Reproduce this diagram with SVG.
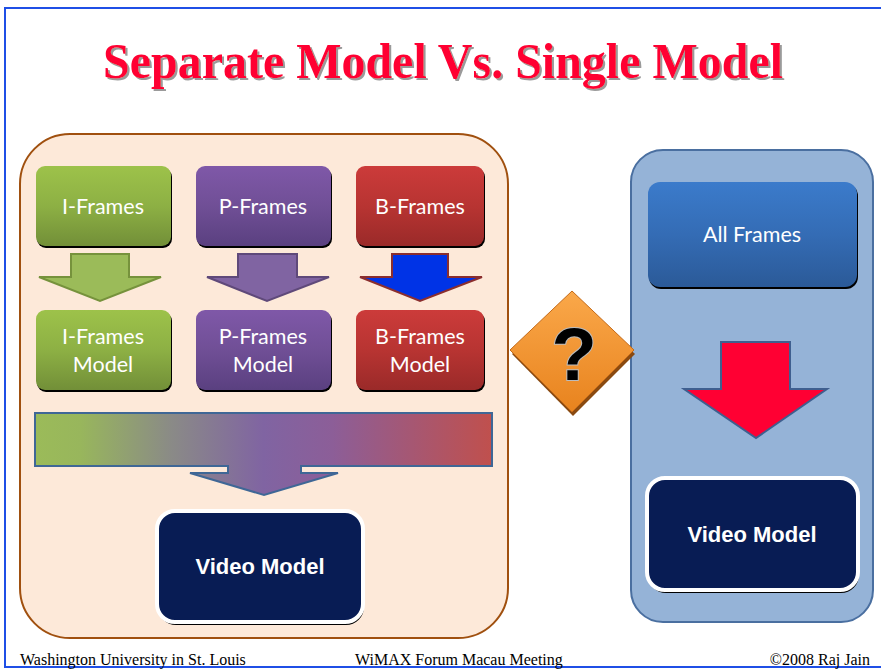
<svg xmlns="http://www.w3.org/2000/svg" width="881" height="669" viewBox="0 0 881 669">
<defs>
<linearGradient id="gGreen" x1="0" y1="0" x2="0" y2="1"><stop offset="0" stop-color="#9DC24A"/><stop offset="0.5" stop-color="#8DB044"/><stop offset="1" stop-color="#728F38"/></linearGradient>
<linearGradient id="gPurple" x1="0" y1="0" x2="0" y2="1"><stop offset="0" stop-color="#7F58A8"/><stop offset="0.5" stop-color="#704F96"/><stop offset="1" stop-color="#5A4080"/></linearGradient>
<linearGradient id="gRed" x1="0" y1="0" x2="0" y2="1"><stop offset="0" stop-color="#CC3B3A"/><stop offset="0.5" stop-color="#B83432"/><stop offset="1" stop-color="#9A2A29"/></linearGradient>
<linearGradient id="gBlue" x1="0" y1="0" x2="0" y2="1"><stop offset="0" stop-color="#3B7BCB"/><stop offset="0.5" stop-color="#346CB5"/><stop offset="1" stop-color="#2B5A98"/></linearGradient>
<linearGradient id="gBar" gradientUnits="userSpaceOnUse" x1="35" y1="0" x2="492" y2="0"><stop offset="0" stop-color="#9BBB59"/><stop offset="0.1" stop-color="#98B65C"/><stop offset="0.3" stop-color="#8A8A87"/><stop offset="0.5" stop-color="#8064A2"/><stop offset="0.65" stop-color="#8C5E98"/><stop offset="1" stop-color="#C0504D"/></linearGradient>
<linearGradient id="gOrange" x1="0" y1="0" x2="0" y2="1"><stop offset="0" stop-color="#FAA84A"/><stop offset="1" stop-color="#E8831E"/></linearGradient>
<filter id="tshadow" x="-5%" y="-20%" width="110%" height="140%"><feDropShadow dx="2" dy="2" stdDeviation="0.6" flood-color="#9A9A9A" flood-opacity="1"/></filter>
<style>
.lbl{font-family:Lato,"Open Sans","Noto Sans",sans-serif;font-size:21.5px;fill:#FFFFFF;text-anchor:middle}
.vm{font-family:"Liberation Sans",Arial,sans-serif;font-size:22px;font-weight:bold;fill:#FFFFFF;text-anchor:middle}
.foot{font-family:"Liberation Serif","Times New Roman",serif;font-size:16px;fill:#000}
.shadow{fill:#000}
.frame{stroke:#1F4FE6;stroke-width:2;fill:none}
</style>
</defs>
<rect x="0" y="0" width="881" height="669" fill="#FFFFFF"/>
<path class="frame" d="M881,8 H5 V667 H881"/>
<g id="title">
<text x="443" y="78" text-anchor="middle" font-family="Liberation Serif,'Times New Roman',serif" font-weight="bold" font-size="50" fill="#FF0033" textLength="680" lengthAdjust="spacingAndGlyphs" filter="url(#tshadow)">Separate Model Vs. Single Model</text>
</g>
<g id="left-container">
<rect x="20" y="134" width="488" height="504" rx="50" fill="#FDE9D9" stroke="#A0500F" stroke-width="2"/>
</g>
<g id="right-container">
<rect x="631" y="150" width="242" height="472" rx="32" fill="#95B3D7" stroke="#4A6FA0" stroke-width="2"/>
</g>
<g id="connectors">
<path d="M71,254 H129 V277 H161 L100,301 L39,277 H71 Z" fill="#9BBB59" stroke="#76923C" stroke-width="2"/>
<path d="M238,254 H297 V277 H329 L267,301 L207,277 H238 Z" fill="#8064A2" stroke="#5F497A" stroke-width="2"/>
<path d="M392,254 H448 V277 H482 L420,301 L360,277 H392 Z" fill="#0033E6" stroke="#8B2E2E" stroke-width="2"/>
<path d="M35,413 H492 V466 H301 V473 H338 L264,495 L190,473 H228 V466 H35 Z" fill="url(#gBar)" stroke="#3F6796" stroke-width="2"/>
<path d="M721,342 H790 V389 H827 L756,438 L684,389 H721 Z" fill="#FF0033" stroke="#3F5F8F" stroke-width="2"/>
</g>
<g id="i-frames">
<rect x="37" y="168" width="135" height="80" rx="9" class="shadow"/>
<rect x="36" y="166" width="135" height="80" rx="9" fill="url(#gGreen)"/>
<text x="103" y="214" class="lbl">I-Frames</text>
</g>
<g id="p-frames">
<rect x="197" y="168" width="135" height="80" rx="9" class="shadow"/>
<rect x="196" y="166" width="135" height="80" rx="9" fill="url(#gPurple)"/>
<text x="263" y="214" class="lbl">P-Frames</text>
</g>
<g id="b-frames">
<rect x="357" y="168" width="128" height="80" rx="9" class="shadow"/>
<rect x="356" y="166" width="128" height="80" rx="9" fill="url(#gRed)"/>
<text x="420" y="214" class="lbl">B-Frames</text>
</g>
<g id="i-model">
<rect x="37" y="312" width="135" height="80" rx="9" class="shadow"/>
<rect x="36" y="310" width="135" height="80" rx="9" fill="url(#gGreen)"/>
<text x="103" y="344" class="lbl">I-Frames</text>
<text x="103" y="372" class="lbl">Model</text>
</g>
<g id="p-model">
<rect x="197" y="312" width="135" height="80" rx="9" class="shadow"/>
<rect x="196" y="310" width="135" height="80" rx="9" fill="url(#gPurple)"/>
<text x="263" y="344" class="lbl">P-Frames</text>
<text x="263" y="372" class="lbl">Model</text>
</g>
<g id="b-model">
<rect x="357" y="312" width="128" height="80" rx="9" class="shadow"/>
<rect x="356" y="310" width="128" height="80" rx="9" fill="url(#gRed)"/>
<text x="420" y="344" class="lbl">B-Frames</text>
<text x="420" y="372" class="lbl">Model</text>
</g>
<g id="video-model-left">
<rect x="158" y="514" width="206" height="111" rx="18" class="shadow"/>
<rect x="157" y="511" width="206" height="111" rx="18" fill="#081C54" stroke="#FFFFFF" stroke-width="4"/>
<text x="260" y="574" class="vm">Video Model</text>
</g>
<g id="question">
<path d="M572,293 L634,352 L572,414 L511,352 Z" fill="#8A4A10" transform="translate(1,2)"/>
<path d="M572,291 L634,350 L572,412 L510,350 Z" fill="url(#gOrange)" stroke="#C46A18" stroke-width="1"/>
<text x="574" y="380" text-anchor="middle" font-family="'Liberation Sans',Arial,sans-serif" font-weight="bold" font-size="74" fill="#000" stroke="#BBBBBB" stroke-width="2" paint-order="stroke">?</text>
</g>
<g id="all-frames">
<rect x="649" y="184" width="209" height="105" rx="12" class="shadow"/>
<rect x="648" y="182" width="209" height="105" rx="12" fill="url(#gBlue)"/>
<text x="752" y="242" class="lbl">All Frames</text>
</g>
<g id="video-model-right">
<rect x="648" y="481" width="211" height="112" rx="18" class="shadow"/>
<rect x="647" y="478" width="211" height="112" rx="18" fill="#081C54" stroke="#FFFFFF" stroke-width="4"/>
<text x="752" y="542" class="vm">Video Model</text>
</g>
<g id="footer">
<text x="20" y="665" class="foot">Washington University in St. Louis</text>
<text x="355" y="665" class="foot">WiMAX Forum Macau Meeting</text>
<text x="870" y="665" class="foot" text-anchor="end">©2008 Raj Jain</text>
</g>
</svg>
